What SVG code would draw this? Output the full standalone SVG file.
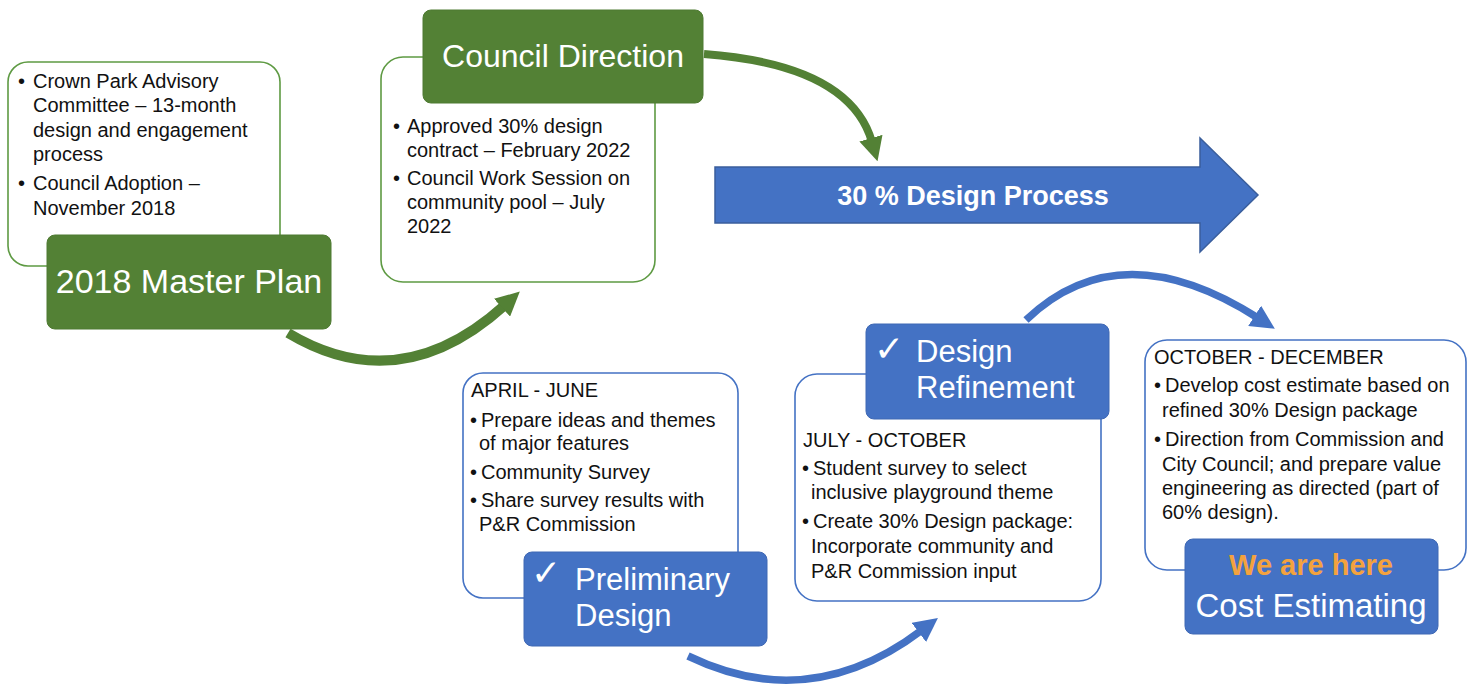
<svg xmlns="http://www.w3.org/2000/svg" width="1473" height="686" viewBox="0 0 1473 686">
<style>
.bg{fill:#ffffff}
.og{fill:#ffffff;stroke:#5E9A43;stroke-width:1.6}
.ob{fill:#ffffff;stroke:#4472C4;stroke-width:1.6}
.tg{fill:#538135;stroke:#4E7A32;stroke-width:1}
.tb{fill:#4472C4;stroke:#3F68B4;stroke-width:1}
.body{font-family:"Liberation Sans",Arial,sans-serif;font-size:20px;fill:#111111}
.title{font-family:"Liberation Sans",Arial,sans-serif;fill:#ffffff}
.chk{font-family:"DejaVu Sans",sans-serif;font-size:36px;fill:#ffffff}
.cg{fill:none;stroke:#538135}
.cb{fill:none;stroke:#4472C4}
</style>
<defs>
<marker id="ahg" markerUnits="userSpaceOnUse" viewBox="0 0 24 24" markerWidth="24" markerHeight="24" refX="4" refY="12" orient="auto">
<path d="M0,0 L24,12 L0,24 z" fill="#538135"/>
</marker>
<marker id="ahb" markerUnits="userSpaceOnUse" viewBox="0 0 24 24" markerWidth="24" markerHeight="24" refX="4" refY="12" orient="auto">
<path d="M0,0 L24,12 L0,24 z" fill="#4472C4"/>
</marker>
</defs>
<rect class="bg" x="0" y="0" width="1473" height="686"/>

<g id="connectors">
<path class="cg" stroke-width="10" d="M288 333 Q400 400 505 305" marker-end="url(#ahg)"/>
<path class="cg" stroke-width="8" d="M704 54 Q850 65 872 142" marker-end="url(#ahg)"/>
<path class="cb" stroke-width="7.5" d="M688 656 Q810 715 922 630" marker-end="url(#ahb)"/>
<path class="cb" stroke-width="7.5" d="M1026 320 Q1120 230 1258 318" marker-end="url(#ahb)"/>
</g>

<g id="process-arrow">
<path d="M715 167 L1200 167 L1200 138 L1258 195 L1200 252 L1200 223 L715 223 Z" fill="#4472C4" stroke="#3A5E9C" stroke-width="1.5"/>
<text class="title" x="973" y="205" font-size="27" font-weight="bold" text-anchor="middle">30 % Design Process</text>
</g>

<g id="master-plan">
<rect class="og" x="8" y="62" width="272" height="204" rx="20"/>
<text class="body">
<tspan x="18" y="88">•</tspan><tspan x="33" y="88">Crown Park Advisory</tspan>
<tspan x="33" y="112">Committee – 13-month</tspan>
<tspan x="33" y="137">design and engagement</tspan>
<tspan x="33" y="161">process</tspan>
<tspan x="18" y="190">•</tspan><tspan x="33" y="190">Council Adoption –</tspan>
<tspan x="33" y="215">November 2018</tspan>
</text>
<rect class="tg" x="47" y="235" width="284" height="94" rx="8"/>
<text class="title" x="189" y="293" font-size="34" text-anchor="middle">2018 Master Plan</text>
</g>

<g id="council-direction">
<rect class="og" x="381" y="57" width="274" height="225" rx="22"/>
<text class="body">
<tspan x="393" y="133">•</tspan><tspan x="407" y="133">Approved 30% design</tspan>
<tspan x="407" y="157">contract – February 2022</tspan>
<tspan x="393" y="185">•</tspan><tspan x="407" y="185">Council Work Session on</tspan>
<tspan x="407" y="209">community pool – July</tspan>
<tspan x="407" y="233">2022</tspan>
</text>
<rect class="tg" x="423" y="10" width="280" height="93" rx="8"/>
<text class="title" x="563" y="67" font-size="32" text-anchor="middle">Council Direction</text>
</g>

<g id="preliminary-design">
<rect class="ob" x="463" y="373" width="275" height="225" rx="20"/>
<text class="body">
<tspan x="471" y="397">APRIL - JUNE</tspan>
<tspan x="470" y="427">•</tspan><tspan x="481" y="427">Prepare ideas and themes</tspan>
<tspan x="479" y="450">of major features</tspan>
<tspan x="470" y="479">•</tspan><tspan x="481" y="479">Community Survey</tspan>
<tspan x="470" y="507">•</tspan><tspan x="481" y="507">Share survey results with</tspan>
<tspan x="479" y="531">P&amp;R Commission</tspan>
</text>
<rect class="tb" x="524" y="552" width="243" height="94" rx="8"/>
<text class="chk" x="531" y="585">✓</text>
<text class="title" font-size="31"><tspan x="575" y="590">Preliminary</tspan><tspan x="575" y="626">Design</tspan></text>
</g>

<g id="design-refinement">
<rect class="ob" x="795" y="374" width="306" height="227" rx="22"/>
<text class="body">
<tspan x="803" y="447">JULY - OCTOBER</tspan>
<tspan x="802" y="475">•</tspan><tspan x="813" y="475">Student survey to select</tspan>
<tspan x="811" y="499">inclusive playground theme</tspan>
<tspan x="802" y="528">•</tspan><tspan x="813" y="528">Create 30% Design package:</tspan>
<tspan x="811" y="553">Incorporate community and</tspan>
<tspan x="811" y="578">P&amp;R Commission input</tspan>
</text>
<rect class="tb" x="866" y="324" width="243" height="95" rx="8"/>
<text class="chk" x="874" y="361">✓</text>
<text class="title" font-size="31"><tspan x="916" y="362">Design</tspan><tspan x="916" y="398">Refinement</tspan></text>
</g>

<g id="cost-estimating">
<rect class="ob" x="1145" y="340" width="321" height="230" rx="22"/>
<text class="body">
<tspan x="1154" y="364">OCTOBER - DECEMBER</tspan>
<tspan x="1154" y="392">•</tspan><tspan x="1165" y="392">Develop cost estimate based on</tspan>
<tspan x="1162" y="417">refined 30% Design package</tspan>
<tspan x="1154" y="446">•</tspan><tspan x="1165" y="446">Direction from Commission and</tspan>
<tspan x="1162" y="471">City Council; and prepare value</tspan>
<tspan x="1162" y="495">engineering as directed (part of</tspan>
<tspan x="1162" y="519">60% design).</tspan>
</text>
<rect class="tb" x="1185" y="539" width="253" height="95" rx="8"/>
<text class="title" x="1311" y="575" font-size="29" font-weight="bold" text-anchor="middle" style="fill:#F4A23E">We are here</text>
<text class="title" x="1311" y="617" font-size="33" text-anchor="middle">Cost Estimating</text>
</g>
</svg>
